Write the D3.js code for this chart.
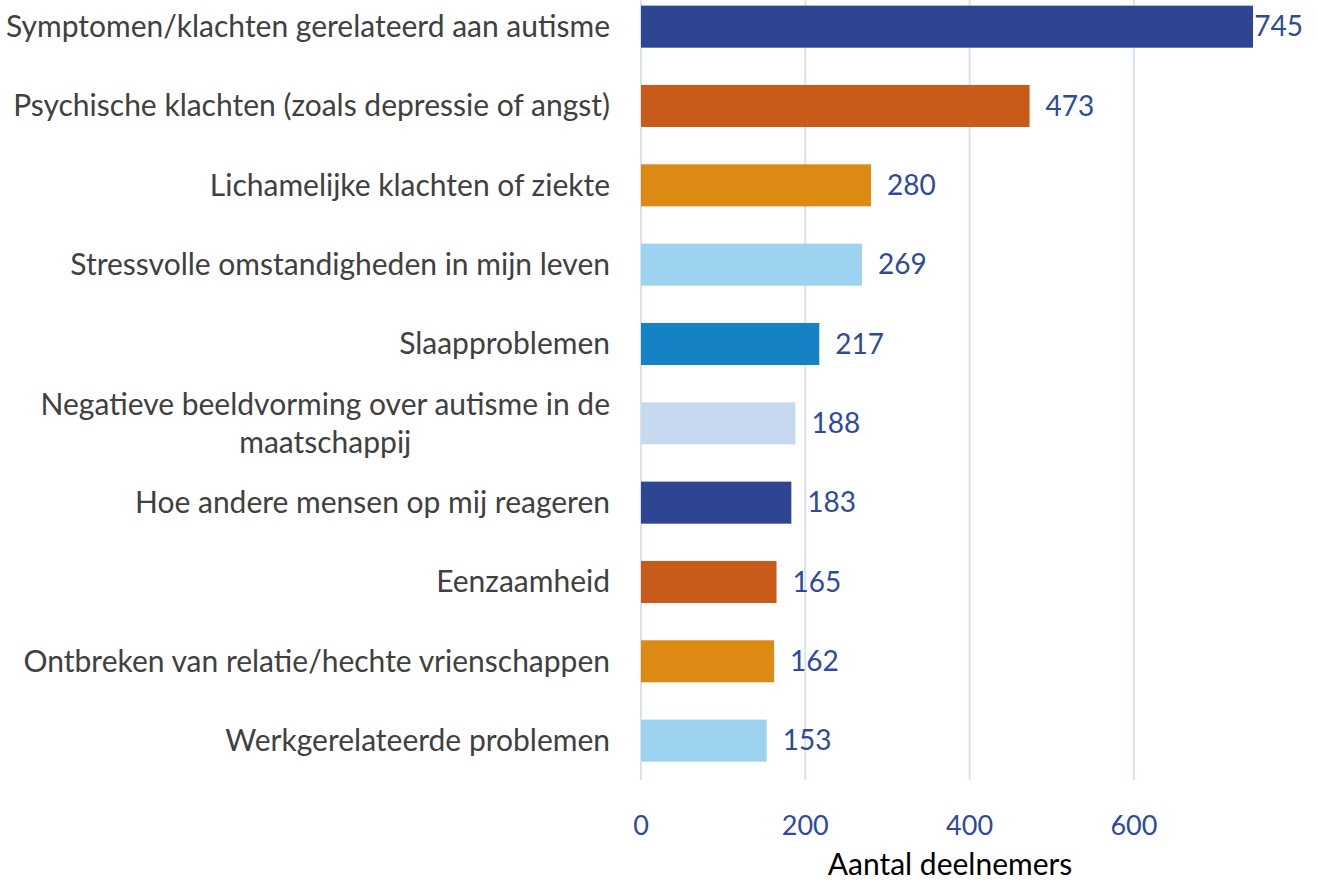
<!DOCTYPE html>
<html><head><meta charset="utf-8">
<script src="https://cdn.jsdelivr.net/npm/d3@7"></script>
<style>body{margin:0;background:#fff}svg{display:block}</style>
</head><body>
<svg id="c" width="1318" height="882"></svg>
<script>
const categories = [
  "Symptomen/klachten gerelateerd aan autisme",
  "Psychische klachten (zoals depressie of angst)",
  "Lichamelijke klachten of ziekte",
  "Stressvolle omstandigheden in mijn leven",
  "Slaapproblemen",
  "Negatieve beeldvorming over autisme in de|maatschappij",
  "Hoe andere mensen op mij reageren",
  "Eenzaamheid",
  "Ontbreken van relatie/hechte vrienschappen",
  "Werkgerelateerde problemen"
];
const values = [745, 473, 280, 269, 217, 188, 183, 165, 162, 153];
const barColors = ["#2e4593","#c95b1a","#dc8a14","#9dd3f0","#1582c5","#c6d9f1","#2e4593","#c95b1a","#dc8a14","#9dd3f0"];
const xTicks = [0, 200, 400, 600];
const axisTitle = "Aantal deelnemers";

const svg = d3.select("#c");
const font = "Lato, 'Open Sans', sans-serif";
const x = d3.scaleLinear().domain([0, 200]).range([641, 805.3]);
const y = d3.scaleBand().domain(categories).range([-13, 780.3]).paddingInner(0.47).paddingOuter(0.235);

// gridlines
svg.append("g").selectAll("line").data(xTicks).join("line")
  .attr("x1", d => x(d)).attr("x2", d => x(d))
  .attr("y1", 0).attr("y2", 780)
  .attr("stroke", "#d9e1f2").attr("stroke-width", 2);

// bars
svg.append("g").selectAll("rect").data(values).join("rect")
  .attr("x", x(0)).attr("y", (d, i) => y(categories[i]))
  .attr("width", d => x(d) - x(0)).attr("height", y.bandwidth())
  .attr("fill", (d, i) => barColors[i]);

// category labels
const lab = svg.append("g").attr("font-family", font).attr("font-size", 30).attr("fill", "#404040");
categories.forEach((c, i) => {
  const lines = c.split("|");
  const cy = y(c) + y.bandwidth() / 2;
  const lh = 38;
  const t = lab.append("text").attr("text-anchor", "middle");
  lines.forEach((ln, j) => {
    t.append("tspan").attr("x", 0).attr("y", cy + (j - (lines.length - 1) / 2) * lh).attr("dy", "0.35em").text(ln);
  });
  const w = t.node().getBBox().width;
  t.selectAll("tspan").attr("x", 610 - w / 2);
});

// value labels
const vl = svg.append("g").attr("font-family", font).attr("font-size", 28).attr("fill", "#2f4a99");
values.forEach((v, i) => {
  const t = vl.append("text").attr("y", y(categories[i]) + y.bandwidth() / 2).attr("dy", "0.35em").text(v);
  const w = t.node().getComputedTextLength();
  t.attr("x", Math.min(x(v) + 16, 1303 - w));
});

// x axis tick labels
svg.append("g").attr("font-family", font).attr("font-size", 27).attr("fill", "#2f4a99")
  .selectAll("text").data(xTicks).join("text")
  .attr("x", d => x(d)).attr("y", 826).attr("dy", "0.35em").attr("text-anchor", "middle").text(d => d);

svg.append("text").attr("font-family", font).attr("font-size", 30).attr("fill", "#000")
  .attr("x", 950).attr("y", 864).attr("dy", "0.35em").attr("text-anchor", "middle").text(axisTitle);
</script>
</body></html>
